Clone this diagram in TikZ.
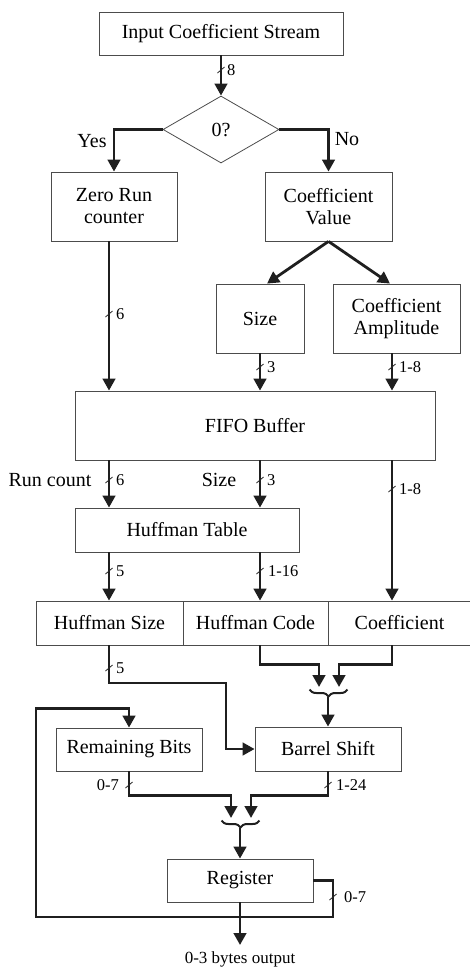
\documentclass[tikz,border=0pt]{standalone}
\usepackage{fontspec}
\setmainfont{Liberation Serif}
\usetikzlibrary{arrows.meta,shapes.geometric,decorations.pathreplacing,calc}

\tikzset{
  box/.style={draw=black!70, line width=0.8pt, inner sep=0pt, align=center,
    font=\fontsize{20}{22}\selectfont},
  diam/.style={diamond, draw=black!70, line width=0.8pt, inner sep=0pt, aspect=1.73,
    minimum width=116pt, minimum height=67pt, font=\fontsize{20}{22}\selectfont},
  wire/.style={draw=black!88, line width=2.8pt},
  flow/.style={wire, -{Triangle[length=12pt,width=12.5pt]}},
  clasp/.style={draw=black!88, line width=2pt, decorate,
    decoration={brace, amplitude=7pt}},
  busmark/.style={draw=black!85, line width=0.8pt},
  bus/.pic={\draw[busmark] (-3.5,3) -- (3.5,-3);},
  bits/.style={inner sep=0pt, anchor=west, font=\fontsize{16.5}{18}\selectfont},
  tag/.style={inner sep=0pt, font=\fontsize{20}{22}\selectfont},
}

\begin{document}
\begin{tikzpicture}[x=1pt,y=-1pt]
\useasboundingbox (0,0) rectangle (470,967);

% column positions of the vertical data paths
\coordinate (colA) at (109,0);
\coordinate (colB) at (260,0);
\coordinate (colC) at (392,0);

% blocks
\node[box, minimum width=244pt, minimum height=43pt] (in) at (221,33.5) {Input Coefficient Stream};
\node[diam] (dec) at (221,129.5) {0?};
\node[box, minimum width=126pt, minimum height=69pt] (zr) at (114,206.5) {Zero Run\\counter};
\node[box, minimum width=127pt, minimum height=69pt] (cv) at (328.5,206.5) {Coefficient\\Value};
\node[box, minimum width=88pt, minimum height=69pt] (size) at (260,318.5) {Size};
\node[box, minimum width=127pt, minimum height=69pt, font=\fontsize{20}{22.5}\selectfont] (amp) at (396.5,318.5) {Coefficient\\Amplitude};
\node[box, minimum width=360pt, minimum height=69pt] (fifo) at (255,425.5) {FIFO Buffer};
\node[box, minimum width=224pt, minimum height=44pt] (ht) at (187,530) {Huffman Table};
\node[box, minimum width=147pt, minimum height=44pt] (hsz) at (109.5,623) {Huffman Size};
\node[box, minimum width=145pt, minimum height=44pt] (hcd) at (255.5,623) {Huffman Code};
\node[box, minimum width=143pt, minimum height=44pt] (cof) at (399.5,623) {Coefficient};
\node[box, minimum width=146pt, minimum height=43pt] (rb) at (129,749.5) {Remaining Bits};
\node[box, minimum width=146pt, minimum height=44pt] (bs) at (328,749) {Barrel Shift};
\node[box, minimum width=146pt, minimum height=43pt] (reg) at (240,880.5) {Register};
\node[inner xsep=0pt, inner ysep=6pt, anchor=north, font=\fontsize{17}{19}\selectfont] (outl) at (240,945) {0-3 bytes output};

% decision
\draw[flow] (in.south) -- (dec.north);
\draw[flow] (dec.west) -| (zr.north);
\draw[flow] (dec.east) -| (cv.north);
\node[tag] (yes) at (92,141) {Yes};
\node[tag] (no) at (347,139) {No};

% value split
\draw[flow] (cv.south) -- ($(size.north)+(7,0)$);
\draw[flow] (cv.south) -- ($(amp.north)+(-6.5,0)$);

% into the FIFO
\draw[flow] (zr.south -| colA) -- (fifo.north -| colA);
\draw[flow] (size.south -| colB) -- (fifo.north -| colB);
\draw[flow] (amp.south -| colC) -- (fifo.north -| colC);

% out of the FIFO
\draw[flow] (fifo.south -| colA) -- (ht.north -| colA);
\draw[flow] (fifo.south -| colB) -- (ht.north -| colB);
\draw[flow] (fifo.south -| colC) -- (cof.north -| colC);
\node[tag] (runc) at (50,480) {Run count};
\node[tag] (sizel) at (219,480) {Size};

% table lookup
\draw[flow] (ht.south -| colA) -- (hsz.north -| colA);
\draw[flow] (ht.south -| colB) -- (hcd.north -| colB);

% shift amount into the barrel shifter
\coordinate (hsbend) at (226,683);
\draw[flow] (hsz.south -| colA) -- (hsbend -| colA) -- (hsbend) |- (bs.west);

% code and coefficient merged into the barrel shifter
\coordinate (mA) at (319,687);
\coordinate (mB) at (339,687);
\draw[flow] (hcd.south -| colB) -- ++(0,19) -| (mA);
\draw[flow] (cof.south -| colC) -- ++(0,19) -| (mB);
\draw[clasp] (347.5,689.5) -- (309.5,689.5);
\draw[flow] ($(bs.north)+(0,-30)$) -- (bs.north);

% barrel shifter and remainder merged into the register
\coordinate (rA) at (231,818);
\coordinate (rB) at (251,818);
\draw[flow] (rb.south) -- ++(0,24) -| (rA);
\draw[flow] (bs.south) -- ++(0,24) -| (rB);
\draw[clasp] (259.5,820.5) -- (221.5,820.5);
\draw[flow] ($(reg.north)+(0,-31)$) -- (reg.north);

% output and feedback of the remaining bits
\draw[flow] (reg.south) -- (outl.north);
\coordinate (loopR) at (333,917);
\coordinate (loopL) at (36,917);
\draw[flow] (reg.east) -| (loopR) -- (loopL) |- ($(rb.north)+(0,-19)$) -- (rb.north);

% bus widths
\pic at (221,70) {bus};   \node[bits] (w1) at (227,70) {8};
\pic at (109,314) {bus};  \node[bits] (w2) at (116,314) {6};
\pic at (260,367) {bus};  \node[bits] (w3) at (267,367) {3};
\pic at (392,367) {bus};  \node[bits] (w4) at (399,367) {1-8};
\pic at (109,480) {bus};  \node[bits] (w5) at (116,480) {6};
\pic at (260,480) {bus};  \node[bits] (w6) at (267,480) {3};
\pic at (392,489) {bus};  \node[bits] (w7) at (399,489) {1-8};
\pic at (109,571) {bus};  \node[bits] (w8) at (116,571) {5};
\pic at (260,571) {bus};  \node[bits] (w9) at (268,571) {1-16};
\pic at (109,668) {bus};  \node[bits] (w10) at (116,668) {5};
\pic at (129,785) {bus};  \node[bits, anchor=east] (w11) at (119,785) {0-7};
\pic at (328,785) {bus};  \node[bits] (w12) at (336,785) {1-24};
\pic at (333,897) {bus};  \node[bits] (w13) at (344,897) {0-7};
\end{tikzpicture}
\end{document}
